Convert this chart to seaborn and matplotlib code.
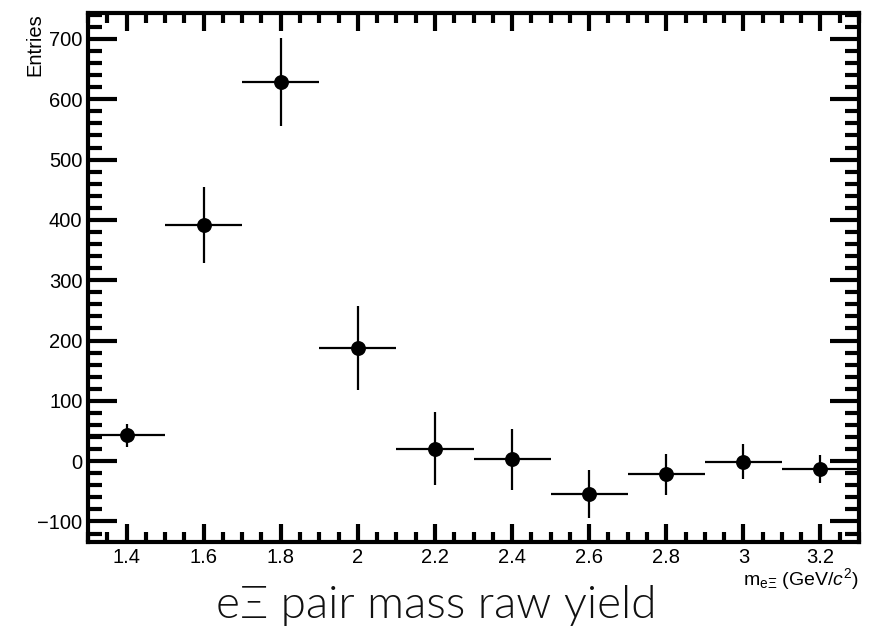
import matplotlib
matplotlib.use("Agg")
import matplotlib.pyplot as plt
from matplotlib.ticker import MultipleLocator
import seaborn as sns
import pandas as pd

# Raw yield per e-Xi invariant mass bin
mass_centers = [1.4, 1.6, 1.8, 2.0, 2.2, 2.4, 2.6, 2.8, 3.0, 3.2]
bin_half_width = 0.1
entries = [43, 391, 628, 188, 21, 3, -55, -22, -1, -13]
entry_errors = [19, 63, 73, 70, 61, 50, 40, 34, 29, 24]

x_ticks = [1.4, 1.6, 1.8, 2.0, 2.2, 2.4, 2.6, 2.8, 3.0, 3.2]
x_tick_labels = ["1.4", "1.6", "1.8", "2", "2.2", "2.4", "2.6", "2.8", "3", "3.2"]
y_ticks = [-100, 0, 100, 200, 300, 400, 500, 600, 700]
y_tick_labels = ["\u2212100", "0", "100", "200", "300", "400", "500", "600", "700"]

df = pd.DataFrame({"mass": mass_centers, "entries": entries, "err": entry_errors})

sns.set_theme(style="white")
plt.rcParams["font.family"] = ["Liberation Sans", "DejaVu Sans"]
plt.rcParams["mathtext.fontset"] = "custom"
plt.rcParams["mathtext.rm"] = "Liberation Sans"
plt.rcParams["mathtext.it"] = "Liberation Sans:italic"

fig = plt.figure(figsize=(8.7, 6.27), dpi=100)
ax = fig.add_axes([88 / 870, 1 - 542 / 627, (859 - 88) / 870, (542 - 13) / 627])

ax.errorbar(df["mass"], df["entries"], xerr=bin_half_width, yerr=df["err"],
            fmt="none", ecolor="black", elinewidth=1.6, capsize=0, zorder=2)
sns.scatterplot(data=df, x="mass", y="entries", ax=ax, color="black",
                s=115, marker="o", edgecolor="black", linewidth=0, zorder=3)

ax.set_xlim(1.3, 3.3)
ax.set_ylim(-134, 743)
ax.set_xticks(x_ticks)
ax.set_xticklabels(x_tick_labels)
ax.set_yticks(y_ticks)
ax.set_yticklabels(y_tick_labels)
ax.xaxis.set_minor_locator(MultipleLocator(0.05))
ax.yaxis.set_minor_locator(MultipleLocator(20))

for side in ax.spines.values():
    side.set_visible(True)
    side.set_color("black")
    side.set_linewidth(3.0)

ax.tick_params(axis="both", which="both", direction="in", top=True, right=True,
               bottom=True, left=True, colors="black", labelsize=14.5, width=3.0)
ax.tick_params(axis="x", which="major", length=13, pad=4)
ax.tick_params(axis="x", which="minor", length=7)
ax.tick_params(axis="y", which="major", length=21, pad=4)
ax.tick_params(axis="y", which="minor", length=10)
ax.set_xlabel("")
ax.set_ylabel("")
ax.grid(False)

fig.text(35 / 870, 1 - 13 / 627, "Entries", rotation=90, ha="center", va="top",
         fontsize=14.5, color="black")
fig.text(859 / 870, 1 - 585 / 627, r"m$_{\mathrm{e}\Xi}$ (GeV/$\mathit{c}^{2}$)",
         ha="right", va="baseline", fontsize=14, color="black")
fig.text(436 / 870, 9 / 627, "e\u039e pair mass raw yield", ha="center", va="baseline",
         fontsize=33, color="#111111", family=["Lato", "DejaVu Sans"],
         fontweight=300)

fig.savefig("out.png", dpi=100, facecolor="white")
